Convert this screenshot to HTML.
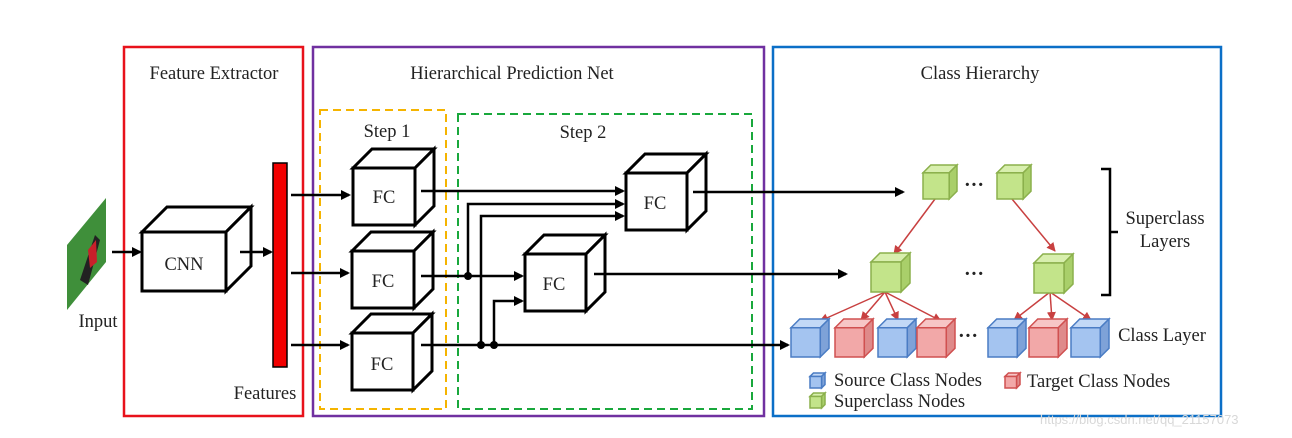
<!DOCTYPE html>
<html><head><meta charset="utf-8"><style>
html,body{margin:0;padding:0;background:#fff;width:1292px;height:438px;overflow:hidden}
svg text{font-family:"Liberation Serif",serif;fill:#222}
</style></head><body>
<svg id="s" width="1292" height="438" viewBox="0 0 1292 438" xmlns="http://www.w3.org/2000/svg">
<defs>
<marker id="ab" markerWidth="10" markerHeight="10" refX="8" refY="5" orient="auto" markerUnits="userSpaceOnUse"><path d="M0,0 L10,5 L0,10 z" fill="#000"/></marker>
<marker id="ar" markerWidth="9" markerHeight="9" refX="8" refY="4.5" orient="auto" markerUnits="userSpaceOnUse"><path d="M0,0 L9,4.5 L0,9 z" fill="#c84040"/></marker>
</defs>
<rect width="1292" height="438" fill="#fff"/>
<rect x="124" y="47" width="179" height="369" fill="none" stroke="#e8121b" stroke-width="2.5"/>
<rect x="313" y="47" width="451" height="369" fill="none" stroke="#7030a0" stroke-width="2.5"/>
<rect x="773" y="47" width="448" height="369" fill="none" stroke="#0b6fc7" stroke-width="2.5"/>
<g font-size="18.5">
<text x="214" y="79" text-anchor="middle">Feature Extractor</text>
<text x="512" y="79" text-anchor="middle">Hierarchical Prediction Net</text>
<text x="980" y="79" text-anchor="middle">Class Hierarchy</text>
</g>
<rect x="320" y="110" width="126" height="299" fill="none" stroke="#f5b400" stroke-width="2" stroke-dasharray="8,5"/>
<rect x="458" y="114" width="294" height="295" fill="none" stroke="#19a83c" stroke-width="2" stroke-dasharray="8,5"/>
<g font-size="18.5">
<text x="387" y="137" text-anchor="middle">Step 1</text>
<text x="583" y="138" text-anchor="middle">Step 2</text>
</g>
<polygon points="67,245 106,198 106,262 67,310" fill="#3f8f3a"/>
<polygon points="80,280 95,235 100,240 88,285" fill="#222"/>
<polygon points="88,250 96,240 97,262 90,268" fill="#c8202a"/>
<text x="98" y="327" font-size="18.5" text-anchor="middle">Input</text>
<rect x="273" y="163" width="14" height="204" fill="#f20000" stroke="#000" stroke-width="1.5"/>
<text x="265" y="399" font-size="18.5" text-anchor="middle">Features</text>
<g id="cubes"></g>
<g font-size="18.5" text-anchor="middle">
<text x="184" y="270">CNN</text>
<text x="384" y="203">FC</text>
<text x="383" y="287">FC</text>
<text x="382" y="370">FC</text>
<text x="655" y="209">FC</text>
<text x="554" y="290">FC</text>
</g>
<g stroke="#000" stroke-width="2.5" fill="none">
<line x1="112" y1="252" x2="140" y2="252" marker-end="url(#ab)"/>
<line x1="240" y1="252" x2="271" y2="252" marker-end="url(#ab)"/>
<line x1="291" y1="195" x2="349" y2="195" marker-end="url(#ab)"/>
<line x1="291" y1="273" x2="348" y2="273" marker-end="url(#ab)"/>
<line x1="291" y1="345" x2="348" y2="345" marker-end="url(#ab)"/>
<line x1="421" y1="191" x2="623" y2="191" marker-end="url(#ab)"/>
<polyline points="468,276 468,204 623,204" marker-end="url(#ab)"/>
<polyline points="481,345 481,216 623,216" marker-end="url(#ab)"/>
<line x1="421" y1="276" x2="522" y2="276" marker-end="url(#ab)"/>
<polyline points="494,345 494,301 522,301" marker-end="url(#ab)"/>
<line x1="421" y1="345" x2="788" y2="345" marker-end="url(#ab)"/>
<line x1="693" y1="192" x2="903" y2="192" marker-end="url(#ab)"/>
<line x1="594" y1="274" x2="846" y2="274" marker-end="url(#ab)"/>
</g>
<circle cx="468" cy="276" r="4" fill="#000"/>
<circle cx="481" cy="345" r="4" fill="#000"/>
<circle cx="494" cy="345" r="4" fill="#000"/>
<g stroke="#c84040" stroke-width="1.5" fill="none" marker-end="url(#ar)">
<line x1="935" y1="199" x2="894" y2="254"/>
<line x1="1012" y1="199" x2="1055" y2="251"/>
<line x1="885" y1="292" x2="820" y2="321"/>
<line x1="885" y1="292" x2="861" y2="320"/>
<line x1="885" y1="292" x2="898" y2="320"/>
<line x1="885" y1="292" x2="941" y2="321"/>
<line x1="1050" y1="292" x2="1014" y2="320"/>
<line x1="1050" y1="292" x2="1052" y2="320"/>
<line x1="1050" y1="292" x2="1091" y2="320"/>
</g>
<g id="ccubes"></g>
<g font-size="20" font-weight="bold"><text x="964" y="191">···</text><text x="964" y="280">···</text><text x="958" y="342">···</text></g>
<polyline points="1101,169 1110,169 1110,295 1101,295" fill="none" stroke="#000" stroke-width="2.5"/>
<line x1="1110" y1="232" x2="1118" y2="232" stroke="#000" stroke-width="2.5"/>
<g font-size="18.5">
<text x="1165" y="224" text-anchor="middle">Superclass</text>
<text x="1165" y="247" text-anchor="middle">Layers</text>
<text x="1162" y="341" text-anchor="middle">Class Layer</text>
<text x="834" y="386">Source Class Nodes</text>
<text x="1027" y="387">Target Class Nodes</text>
<text x="834" y="407">Superclass Nodes</text>
</g>
<text x="1040" y="424" font-size="13" style="fill:#d8d8d8;font-family:'Liberation Sans',sans-serif">https://blog.csdn.net/qq_21157073</text>
</svg>
<script>
function cube(x,y,w,h,dx,dy,fr,tp,sd,st,sw){
 return '<g stroke="'+st+'" stroke-width="'+sw+'" stroke-linejoin="miter">'+
 '<polygon fill="'+tp+'" points="'+x+','+y+' '+(x+dx)+','+(y-dy)+' '+(x+w+dx)+','+(y-dy)+' '+(x+w)+','+y+'"/>'+
 '<polygon fill="'+sd+'" points="'+(x+w)+','+y+' '+(x+w+dx)+','+(y-dy)+' '+(x+w+dx)+','+(y+h-dy)+' '+(x+w)+','+(y+h)+'"/>'+
 '<rect fill="'+fr+'" x="'+x+'" y="'+y+'" width="'+w+'" height="'+h+'"/></g>';
}
var b='';
b+=cube(142,232,84,59,25,25,'#fff','#fff','#fff','#000',3);
b+=cube(353,168,62,57,19,19,'#fff','#fff','#fff','#000',3);
b+=cube(352,251,62,57,19,19,'#fff','#fff','#fff','#000',3);
b+=cube(352,333,61,57,19,19,'#fff','#fff','#fff','#000',3);
b+=cube(626,173,61,57,19,19,'#fff','#fff','#fff','#000',3);
b+=cube(525,254,61,57,19,19,'#fff','#fff','#fff','#000',3);
document.getElementById('cubes').innerHTML=b;
var G=['#c3e48a','#d8efae','#a9cf6a','#8bb04c'],B=['#a4c4f0','#c2d8f6','#7ea2d8','#4a7cc4'],R=['#f2a8a8','#f7c6c6','#df8a8a','#d05050'];
function cc(x,y,s,c){var w=s*0.77,d=s*0.23;return cube(x,y+d,w,w,d,d,c[0],c[1],c[2],c[3],1.5);}
var c='';
c+=cc(923,165,34,G);c+=cc(997,165,34,G);
c+=cc(871,253,39,G);c+=cc(1034,254,39,G);
[[791,B],[835,R],[878,B],[917,R],[988,B],[1029,R],[1071,B]].forEach(function(a){c+=cc(a[0],319,38,a[1]);});
c+=cc(810,373,15,B);c+=cc(1005,373,15,R);c+=cc(810,393,15,G);
document.getElementById('ccubes').innerHTML=c;
</script>
</body></html>
